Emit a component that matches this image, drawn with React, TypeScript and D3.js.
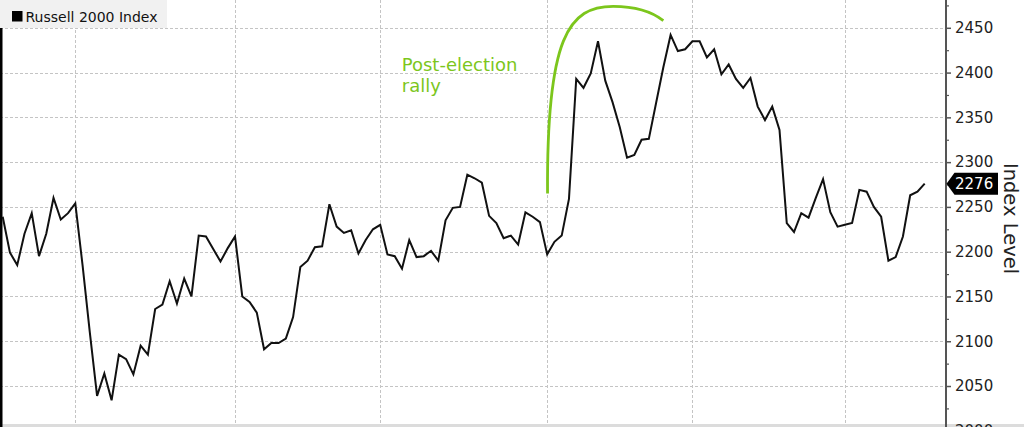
import { useEffect, useRef } from 'react'
import * as d3 from 'd3'

const seriesName = 'Russell 2000 Index'
const axisTitle = 'Index Level'
const annotationLines = ['Post-election', 'rally']

// daily closes
const closes = [
  2239, 2199, 2185, 2220, 2243, 2195, 2220, 2260, 2236, 2243,
  2254, 2185, 2110, 2039, 2064, 2034, 2085, 2080, 2063, 2095,
  2085, 2136, 2141, 2167, 2142, 2170, 2150, 2218, 2217, 2203,
  2189, 2204, 2217, 2150, 2144, 2132, 2091, 2098, 2098, 2103,
  2127, 2183, 2190, 2205, 2206, 2253, 2228, 2221, 2224, 2198,
  2213, 2225, 2230, 2197, 2195, 2181, 2213, 2194, 2195, 2201,
  2190, 2235, 2249, 2250, 2286, 2282, 2277, 2240, 2232, 2215,
  2218, 2208, 2244, 2239, 2233, 2197, 2211, 2218, 2259, 2393,
  2383, 2399, 2435, 2391, 2367, 2339, 2305, 2308, 2325, 2326,
  2366, 2406, 2442, 2424, 2426, 2435, 2435, 2417, 2426, 2398,
  2409, 2393, 2383, 2394, 2362, 2347, 2362, 2336, 2232, 2222,
  2243, 2238, 2260, 2281, 2244, 2228, 2230, 2232, 2269, 2267,
  2250, 2239, 2190, 2194, 2217, 2263, 2267, 2276,
]
const lastLabel = '2276'

// trading-day index of each month start (vertical grid)
const monthStarts = [10, 32, 52, 75, 95, 116]

const yTicks = [2000, 2050, 2100, 2150, 2200, 2250, 2300, 2350, 2400, 2450]
const yMinorTicks = [2025, 2075, 2125, 2175, 2225, 2275, 2325, 2375, 2425, 2475]

// green annotation arc: two cubic segments, [day index, index level]
// start, ctrl, ctrl, mid, ctrl, ctrl, end
const arcDays = [75.05, 74.9, 78.0, 84.1, 87.5, 89.6, 91.0]
const arcLevels = [2265, 2440, 2474, 2474, 2474, 2467, 2458]

const W = 1024
const H = 427
const FONT = 'DejaVu Sans, Verdana, sans-serif'
const GREEN = '#7cc61c'

export default function App() {
  const svgRef = useRef<SVGSVGElement>(null)

  useEffect(() => {
    if (!svgRef.current) return
    const svg = d3.select(svgRef.current)
    svg.selectAll('*').remove()

    const axisX = 946
    const x = d3.scaleLinear().domain([0, closes.length - 1]).range([2.7, 924.7])
    const y = d3.scaleLinear().domain([2000, 2450]).range([430.8, 27.8])

    svg.append('rect').attr('width', W).attr('height', H).attr('fill', '#fff')

    // grid, dotted
    const hGrid = svg.append('g')
    hGrid.selectAll('line')
      .data(yTicks)
      .join('line')
      .attr('x1', 0)
      .attr('x2', axisX)
      .attr('y1', d => Math.round(y(d)) + 0.5)
      .attr('y2', d => Math.round(y(d)) + 0.5)
      .attr('stroke', '#c4c4c4')
      .attr('stroke-width', 1)
      .attr('stroke-dasharray', '3 2')
      .attr('shape-rendering', 'crispEdges')
    const vGrid = svg.append('g')
    vGrid.selectAll('line')
      .data(monthStarts)
      .join('line')
      .attr('x1', d => Math.round(x(d)) + 0.5)
      .attr('x2', d => Math.round(x(d)) + 0.5)
      .attr('y1', 0)
      .attr('y2', 424)
      .attr('stroke', '#c4c4c4')
      .attr('stroke-width', 1)
      .attr('stroke-dasharray', '3 2')
      .attr('shape-rendering', 'crispEdges')

    // bottom strip and left edge
    svg.append('rect').attr('x', 0).attr('y', 424).attr('width', W).attr('height', 3).attr('fill', '#dcdcdc')
    svg.append('rect').attr('x', 0).attr('y', 28).attr('width', 2.5).attr('height', H - 28).attr('fill', '#000')

    // series line
    const line = d3.line<number>()
      .x((_, i) => x(i))
      .y(d => y(d))
    svg.append('path')
      .datum(closes)
      .attr('fill', 'none')
      .attr('stroke', '#111')
      .attr('stroke-width', 2)
      .attr('stroke-linejoin', 'miter')
      .attr('d', line)

    // annotation arc
    const ax = arcDays.map(d => x(d))
    const ay = arcLevels.map(v => y(v))
    const p = d3.path()
    p.moveTo(ax[0], ay[0])
    p.bezierCurveTo(ax[1], ay[1], ax[2], ay[2], ax[3], ay[3])
    p.bezierCurveTo(ax[4], ay[4], ax[5], ay[5], ax[6], ay[6])
    svg.append('path')
      .attr('d', p.toString())
      .attr('fill', 'none')
      .attr('stroke', GREEN)
      .attr('stroke-width', 2.8)

    const note = svg.append('text')
      .attr('x', x(54.97))
      .attr('y', y(2402))
      .attr('fill', GREEN)
      .attr('font-family', FONT)
      .attr('font-size', 18)
    note.selectAll('tspan')
      .data(annotationLines)
      .join('tspan')
      .attr('x', x(54.97))
      .attr('dy', (_, i) => (i === 0 ? 0 : 21))
      .text(d => d)

    // right axis
    const axisG = svg.append('g').attr('transform', `translate(${axisX},0)`)
    axisG.call(
      d3.axisRight(y).tickValues(yTicks).tickSize(5).tickPadding(4).tickFormat(d3.format('d'))
    )
    axisG.select('.domain').remove()
    axisG.attr('font-family', FONT).attr('font-size', 15)
    axisG.selectAll('.tick line').attr('stroke', '#555').attr('stroke-width', 1.5)
    axisG.selectAll('.tick text').attr('fill', '#222')

    const minorG = svg.append('g').attr('transform', `translate(${axisX},0)`)
    minorG.call(d3.axisRight(y).tickValues(yMinorTicks).tickSize(3).tickFormat(() => ''))
    minorG.select('.domain').remove()
    minorG.selectAll('.tick line').attr('stroke', '#555').attr('stroke-width', 1.2)

    svg.append('line')
      .attr('x1', axisX).attr('x2', axisX)
      .attr('y1', 0).attr('y2', H)
      .attr('stroke', '#555')
      .attr('stroke-width', 2)

    // last value tag
    const lastY = y(closes[closes.length - 1])
    const tag = svg.append('g')
    tag.append('path')
      .attr('d', `M${axisX + 0.5},${lastY} L${axisX + 8.5},${lastY - 11} L998,${lastY - 11} L998,${lastY + 11} L${axisX + 8.5},${lastY + 11} Z`)
      .attr('fill', '#000')
    tag.append('text')
      .attr('x', axisX + 9)
      .attr('y', lastY)
      .attr('dy', '0.36em')
      .attr('fill', '#fff')
      .attr('font-family', FONT)
      .attr('font-size', 15)
      .text(lastLabel)

    // axis title
    svg.append('text')
      .attr('transform', `translate(1004,${y(2237)}) rotate(90)`)
      .attr('text-anchor', 'middle')
      .attr('fill', '#222')
      .attr('font-family', FONT)
      .attr('font-size', 19.5)
      .text(axisTitle)

    // legend
    svg.append('rect').attr('x', 0).attr('y', 0).attr('width', 167).attr('height', 28).attr('fill', '#f1f1f1')
    svg.append('rect').attr('x', 12).attr('y', 11).attr('width', 10.5).attr('height', 10.5).attr('fill', '#000')
    svg.append('text')
      .attr('x', 25.5)
      .attr('y', 21.5)
      .attr('fill', '#111')
      .attr('font-family', FONT)
      .attr('font-size', 14)
      .text(seriesName)
  }, [])

  return (
    <svg
      ref={svgRef}
      width={W}
      height={H}
      style={{ position: 'absolute', left: 0, top: 0, display: 'block' }}
    />
  )
}
